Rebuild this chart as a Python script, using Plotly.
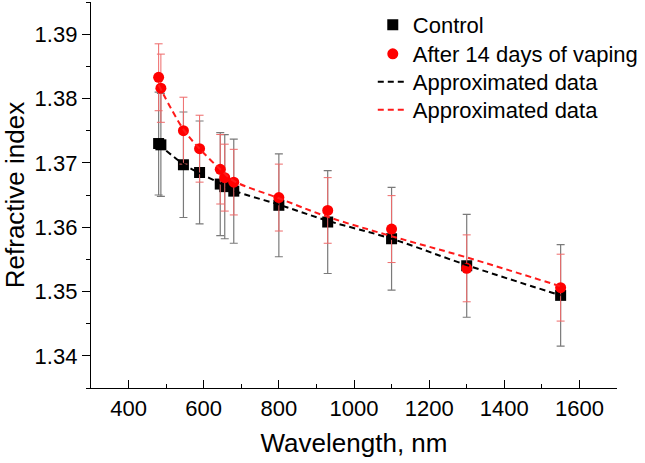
import plotly.graph_objects as go

# ---- data ----
wavelength = [480, 486, 546, 589, 644, 656, 680, 800, 930, 1100, 1300, 1550]
control = [1.3730, 1.3728, 1.3697, 1.3685, 1.3667, 1.3663, 1.3656, 1.3634, 1.3608, 1.3582, 1.3540, 1.3494]
control_err = [0.0080, 0.0080, 0.0082, 0.0080, 0.0080, 0.0081, 0.0081, 0.0080, 0.0080, 0.0080, 0.0080, 0.0079]
vaping = [1.3833, 1.3816, 1.3750, 1.3722, 1.3690, 1.3677, 1.3670, 1.3646, 1.3626, 1.3597, 1.3536, 1.3506]
vaping_err = [0.0052, 0.0053, 0.0052, 0.0052, 0.0054, 0.0052, 0.0051, 0.0052, 0.0051, 0.0052, 0.0052, 0.0052]

fit_wavelength = [480, 546, 589, 644, 680, 800, 930, 1100, 1300, 1550]
control_fit = [1.3729, 1.3698, 1.3684, 1.3668, 1.3657, 1.3635, 1.3610, 1.3582, 1.3541, 1.3494]
vaping_fit = [1.3821, 1.3752, 1.3722, 1.3690, 1.3672, 1.3645, 1.3616, 1.3586, 1.3553, 1.3508]

x_ticks = [400, 600, 800, 1000, 1200, 1400, 1600]
y_ticks = [1.34, 1.35, 1.36, 1.37, 1.38, 1.39]

FONT = "Liberation Sans, Arial, sans-serif"

fig = go.Figure()

fig.add_trace(go.Scatter(
    x=wavelength, y=control, mode="markers", name="Control", legend="legend",
    marker=dict(symbol="square", size=11, color="black"),
    error_y=dict(type="data", array=control_err, color="#7a7a7a", thickness=1.2, width=4),
))
fig.add_trace(go.Scatter(
    x=wavelength, y=vaping, mode="markers", name="After 14 days of vaping", legend="legend2",
    marker=dict(symbol="circle", size=11, color="#ff0000"),
    error_y=dict(type="data", array=vaping_err, color="#ee6a6a", thickness=1.0, width=4),
))
fig.add_trace(go.Scatter(
    x=fit_wavelength, y=control_fit, mode="lines", name="Approximated data", legend="legend3",
    line=dict(color="black", width=2, dash="6px,4px", shape="spline", smoothing=1),
))
fig.add_trace(go.Scatter(
    x=fit_wavelength, y=vaping_fit, mode="lines", name="Approximated data", legend="legend4",
    line=dict(color="#ff1a1a", width=2, dash="6px,4px", shape="spline", smoothing=1),
))

def leg(y):
    return dict(x=0.5357, y=y, xanchor="left", yanchor="middle",
                bgcolor="rgba(0,0,0,0)", font=dict(size=22, family=FONT))

fig.update_layout(
    width=645, height=463,
    margin=dict(l=91, r=28, t=2, b=75, autoexpand=False),
    paper_bgcolor="white", plot_bgcolor="white",
    font=dict(family=FONT, size=22, color="black"),
    showlegend=True,
    legend=leg(0.9404), legend2=leg(0.8653), legend3=leg(0.7927), legend4=leg(0.7202),
    xaxis=dict(
        range=[300, 1700], tickvals=x_ticks, ticks="inside", ticklen=8, tickwidth=1.3,
        tickcolor="black", showline=True, linecolor="black", linewidth=1.3,
        showgrid=False, zeroline=False, tickfont=dict(size=22), automargin=False,
        minor=dict(dtick=100, tick0=300, ticks="inside", ticklen=4, tickcolor="black", tickwidth=1.3, showgrid=False),
        title=dict(text="Wavelength, nm", font=dict(size=26), standoff=14),
    ),
    yaxis=dict(
        range=[1.335, 1.395], tickvals=y_ticks, tickformat=".2f", ticks="outside", ticklen=8, tickwidth=1.3,
        tickcolor="black", showline=True, linecolor="black", linewidth=1.3,
        showgrid=False, zeroline=False, tickfont=dict(size=22), automargin=False,
        minor=dict(dtick=0.005, tick0=1.335, ticks="outside", ticklen=4, tickcolor="black", tickwidth=1.3, showgrid=False),
        title=dict(text="Refractive index", font=dict(size=26)),
    ),
)

fig.write_html("out.html", config={"displayModeBar": False},
               post_script="document.body.style.margin='0';document.body.style.padding='0';")
